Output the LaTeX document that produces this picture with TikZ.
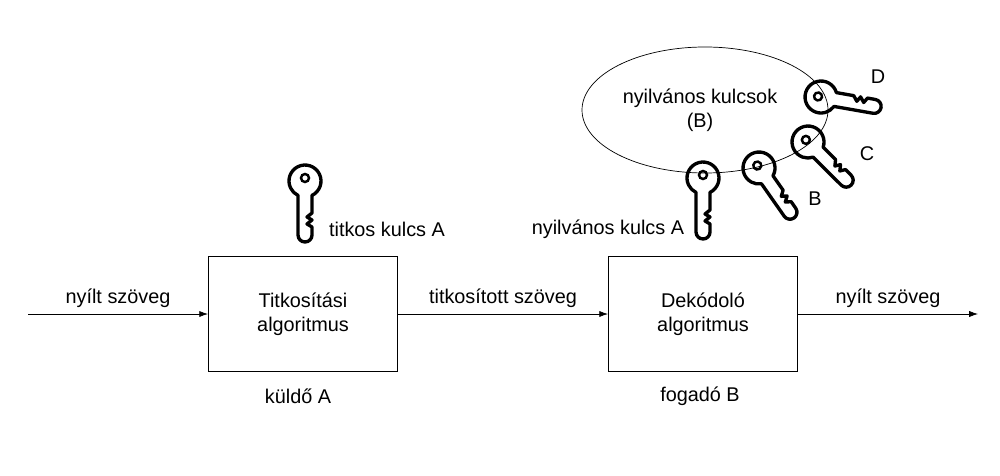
\documentclass[tikz,border=0pt]{standalone}
\usepackage{fontspec}
\setmainfont{Liberation Sans}
\usetikzlibrary{arrows.meta}
\tikzset{
  keyline/.style={line width=1.9pt, line join=round},
  blockbox/.style={draw, minimum width=107.7pt, minimum height=65.8pt, align=center},
  lbl/.style={font=\fontsize{11.3}{13.5}\selectfont, align=center},
  flow/.style={-{Latex[length=5pt,width=3.5pt]}},
  key/.pic={
    \draw[keyline] (7,14.4) arc (64:-244:16) -- (-7,54) arc (180:0:7) -- (7,46) -- (2,43) -- (7,39) -- (2,36) -- (7,32) -- cycle;
    \draw[line width=1.4pt] (0,-3) circle (4);
  }
}
\begin{document}
\begin{tikzpicture}[x=0.02cm,y=-0.02cm]
\useasboundingbox (0,0) rectangle (1000,476);
% public key ring
\draw (705,110) ellipse (123 and 63);
\node[lbl] (ring) at (700,110) {nyilvános kulcsok\\(B)};
% keys
\pic at (305,181) {key};
\pic at (703,178) {key};
\pic[rotate=35] at (759,168) {key};
\pic[rotate=45] at (808,142) {key};
\pic[rotate=80] at (821,97) {key};
\node[lbl] (kA) at (387,229) {titkos kulcs A};
\node[lbl] (pA) at (608,229) {nyilvános kulcs A};
\node[lbl] (kB) at (815,199) {B};
\node[lbl] (kC) at (867,154) {C};
\node[lbl] (kD) at (878,77) {D};
% blocks
\node[blockbox, lbl] (enc) at (303,314) {Titkosítási\\algoritmus};
\node[blockbox, lbl] (dec) at (703,314) {Dekódoló\\algoritmus};
\node[lbl] (snd) at (298,396) {küldő A};
\node[lbl] (rcv) at (700,396) {fogadó B};
\coordinate (in) at (28,314);
\coordinate (out) at (978,314);
\draw[flow] (in) -- node[lbl, above] {nyílt szöveg} (enc);
\draw[flow] (enc) -- node[lbl, above] {titkosított szöveg} (dec);
\draw[flow] (dec) -- node[lbl, above] {nyílt szöveg} (out);
\end{tikzpicture}
\end{document}
